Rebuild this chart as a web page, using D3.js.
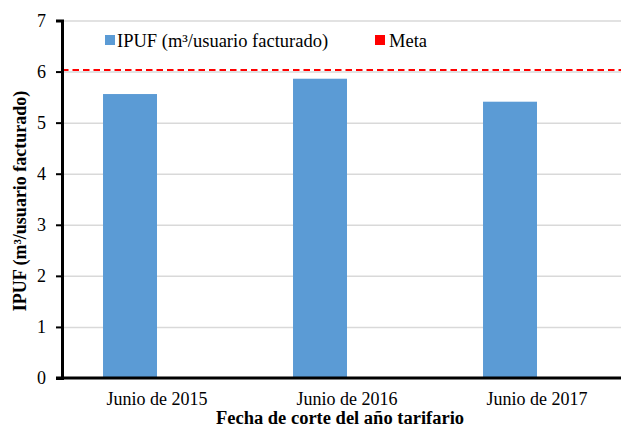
<!DOCTYPE html>
<html>
<head>
<meta charset="utf-8">
<script src="https://cdn.jsdelivr.net/npm/d3@7"></script>
<style>
  body { margin: 0; background: #fff; }
  text { font-family: "Liberation Serif", "Times New Roman", serif; fill: #000; }
</style>
</head>
<body>
<svg id="chart"></svg>
<script>
// data
var categories = ["Junio de 2015", "Junio de 2016", "Junio de 2017"];
var ipufValues = [5.56, 5.86, 5.41];
var metaValue = 6.03;
var seriesNames = ["IPUF (m³/usuario facturado)", "Meta"];
var yTicks = [0, 1, 2, 3, 4, 5, 6, 7];

var W = 621, H = 427;
var margin = {left: 62, right: 621, top: 20.5, bottom: 378};
var serif = "Liberation Serif, Times New Roman, serif";

var svg = d3.select("#chart")
    .attr("width", W)
    .attr("height", H);

// scales
var x0 = d3.scaleBand()
    .domain(categories)
    .range([margin.left, margin.left + 570]);
var x1 = d3.scaleBand()
    .domain(["IPUF", "Meta"])
    .range([0, x0.bandwidth()])
    .paddingOuter(0.76);
var y = d3.scaleLinear()
    .domain([0, 7])
    .range([margin.bottom, margin.top]);

// gridlines
svg.append("g")
    .attr("transform", "translate(" + margin.left + ",0)")
    .call(d3.axisLeft(y).tickValues(yTicks.slice(1)).tickSize(-(margin.right - margin.left)).tickFormat(""))
    .call(function(g) { g.select(".domain").remove(); })
    .selectAll("line")
      .attr("stroke", "#d9d9d9")
      .attr("stroke-width", 1.5);

// bars
svg.selectAll(".bar")
    .data(ipufValues)
  .enter().append("rect")
    .attr("class", "bar")
    .attr("fill", "#5b9bd5")
    .attr("x", function(d, i) { return x0(categories[i]) + x1("IPUF"); })
    .attr("width", x1.bandwidth())
    .attr("y", function(d) { return y(d); })
    .attr("height", function(d) { return margin.bottom - y(d); });

// meta line
svg.append("line")
    .attr("x1", margin.left)
    .attr("x2", margin.right)
    .attr("y1", y(metaValue))
    .attr("y2", y(metaValue))
    .attr("stroke", "#ff0000")
    .attr("stroke-width", 2)
    .attr("stroke-dasharray", "6.5,4");

// y axis
var yAxis = svg.append("g")
    .attr("transform", "translate(" + margin.left + ",0)")
    .call(d3.axisLeft(y).tickValues(yTicks).tickFormat(d3.format("d"))
        .tickSize(6).tickSizeOuter(6).tickPadding(10));
yAxis.attr("font-family", serif).attr("font-size", 18);
yAxis.select(".domain").attr("stroke", "#000").attr("stroke-width", 3);
yAxis.selectAll("line").attr("stroke", "#000").attr("stroke-width", 2);

// x axis
svg.append("line")
    .attr("x1", margin.left - 6)
    .attr("x2", margin.right)
    .attr("y1", margin.bottom)
    .attr("y2", margin.bottom)
    .attr("stroke", "#000")
    .attr("stroke-width", 3);

var xAxis = svg.append("g")
    .attr("transform", "translate(0," + margin.bottom + ")")
    .call(d3.axisBottom(x0).tickSize(0).tickPadding(14));
xAxis.attr("font-family", serif).attr("font-size", 18);
xAxis.select(".domain").remove();

// axis titles
svg.append("text")
    .attr("x", 340)
    .attr("y", 423.5)
    .attr("text-anchor", "middle")
    .attr("font-family", serif)
    .style("font-size", "18.5px")
    .style("font-weight", "bold")
    .text("Fecha de corte del año tarifario");

svg.append("text")
    .attr("transform", "translate(26,201) rotate(-90)")
    .attr("text-anchor", "middle")
    .attr("font-family", serif)
    .style("font-size", "18px")
    .style("font-weight", "bold")
    .text("IPUF  (m³/usuario facturado)");

// legend
var legendX = [105, 375];
var legendColors = ["#5b9bd5", "#ff0000"];
var legend = svg.selectAll(".legend")
    .data(seriesNames)
  .enter().append("g")
    .attr("class", "legend")
    .attr("transform", function(d, i) { return "translate(" + legendX[i] + ",35)"; });
legend.append("rect")
    .attr("width", 10)
    .attr("height", 10)
    .attr("fill", function(d, i) { return legendColors[i]; });
legend.append("text")
    .attr("x", function(d, i) { return i === 0 ? 12 : 14; })
    .attr("y", 12)
    .attr("font-family", serif)
    .style("font-size", "18.5px")
    .text(function(d) { return d; });
</script>
</body>
</html>
